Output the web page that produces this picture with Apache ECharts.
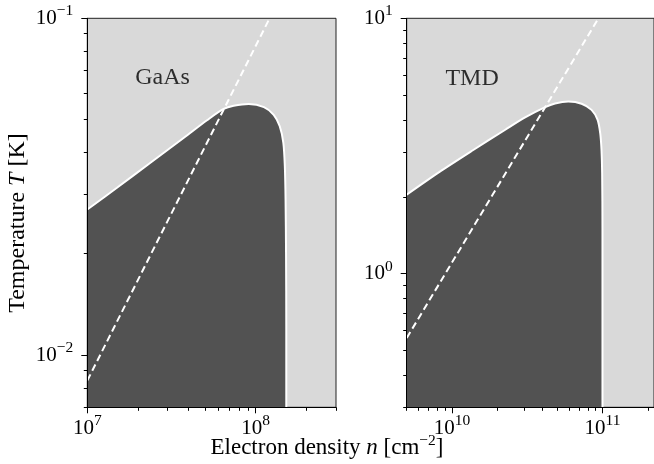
<!DOCTYPE html>
<html>
<head>
<meta charset="utf-8">
<script src="https://cdn.jsdelivr.net/npm/echarts@6/dist/echarts.min.js"></script>
<style>
html,body{margin:0;padding:0;background:#fff;}
#chart{width:654px;height:464px;}
</style>
</head>
<body>
<div id="chart"></div>
<script>
// ---- data ----
// GaAs panel: phase boundary (n in cm^-2, T in K)
const gaasN = [1e7, 1.5e7, 2.36e7, 3.73e7, 5.14e7, 6.45e7, 7.4e7, 9.1e7, 1.12e8, 1.28e8, 1.39e8, 1.46e8, 1.49e8, 1.505e8, 1.515e8, 1.52e8, 1.52e8];
const gaasT = [0.02705, 0.0314, 0.0372, 0.0441, 0.0498, 0.0538, 0.0550, 0.0557, 0.0545, 0.0517, 0.0478, 0.0427, 0.0364, 0.0290, 0.020, 0.012, 0.007];
const gaasDashN = [1e7, 1.21e8];
const gaasDashT = [0.0084, 0.1];
// TMD panel
const tmdN = [5e9, 8.17e9, 1.36e10, 2.26e10, 3.06e10, 4.16e10, 4.84e10, 5.93e10, 7.26e10, 8.46e10, 9.27e10, 9.66e10, 9.85e10, 9.95e10, 1.0e11, 1.0e11];
const tmdT = [2.04, 2.494, 3.031, 3.662, 4.09, 4.49, 4.64, 4.72, 4.63, 4.38, 4.01, 3.55, 3.06, 2.48, 1.5, 0.3];
const tmdDashN = [5e9, 9.4e10];
const tmdDashT = [0.56, 10];

const panelNames = ['GaAs', 'TMD'];
const panelLabelN = [2.8e7, 1.36e10];
const panelLabelT = [0.0668, 5.8];

// axis ranges and ticks
const gaasXRange = [1e7, 3e8];
const gaasYRange = [0.007, 0.1];
const tmdXRange = [5e9, 2.2e11];
const tmdYRange = [0.3, 10];

const gaasXMajor = [1e7, 1e8];
const gaasXMajorLabels = ['7', '8'];
const gaasXMinor = [2e7,3e7,4e7,5e7,6e7,7e7,8e7,9e7,2e8,3e8];
const gaasYMajor = [0.01, 0.1];
const gaasYMajorLabels = ['\u22122', '\u22121'];
const gaasYMinor = [0.007,0.008,0.009,0.02,0.03,0.04,0.05,0.06,0.07,0.08,0.09];
const tmdXMajor = [1e10, 1e11];
const tmdXMajorLabels = ['10', '11'];
const tmdXMinor = [5e9,6e9,7e9,8e9,9e9,2e10,3e10,4e10,5e10,6e10,7e10,8e10,9e10,2e11];
const tmdYMajor = [1, 10];
const tmdYMajorLabels = ['0', '1'];
const tmdYMinor = [0.3,0.4,0.5,0.6,0.7,0.8,0.9,2,3,4,5,6,7,8,9];

const xTitle = 'Electron density {i|n} [cm{s|\u22122}]';
const yTitle = 'Temperature {i|T} [K]';

// ---- build ----
const FONT = '"Liberation Serif", "Times New Roman", serif';
const zip = (a, b) => a.map((v, i) => [v, b[i]]);

const tickRich = {
  b: {fontFamily: FONT, fontSize: 21, color: '#000'},
  s: {fontFamily: FONT, fontSize: 15.5, color: '#000', padding: [0, 0, 14, 0]}
};

function majorAxis(grid, range, ticks, labels, isX) {
  return {
    type: 'log', logBase: 10, gridIndex: grid, min: range[0], max: range[1], z: 5,
    position: isX ? 'bottom' : 'left',
    axisLine: {show: true, onZero: false, lineStyle: {color: '#000', width: 1}},
    axisTick: {show: true, inside: false, length: 6, customValues: ticks, lineStyle: {color: '#000', width: 1}},
    axisLabel: {
      show: true, customValues: ticks, margin: isX ? 6 : 14,
      formatter: function (v) {
        let best = 0, bd = Infinity;
        ticks.forEach((t, i) => { const d = Math.abs(Math.log10(t) - Math.log10(v)); if (d < bd) { bd = d; best = i; } });
        return '{b|10}{s|' + labels[best] + '}';
      },
      rich: tickRich
    },
    splitLine: {show: false}, minorTick: {show: false}, minorSplitLine: {show: false}
  };
}
function minorAxis(grid, range, ticks, isX) {
  return {
    type: 'log', logBase: 10, gridIndex: grid, min: range[0], max: range[1], z: 5,
    position: isX ? 'bottom' : 'left',
    axisLine: {show: false, onZero: false},
    axisTick: {show: true, inside: false, length: 3.5, customValues: ticks, lineStyle: {color: '#000', width: 1}},
    axisLabel: {show: false},
    splitLine: {show: false}, minorTick: {show: false}, minorSplitLine: {show: false}
  };
}

function boundarySeries(ax, data) {
  return {
    type: 'line', xAxisIndex: ax, yAxisIndex: ax, data: data, showSymbol: false, symbol: 'none',
    smooth: 0.3, z: 2, silent: true,
    lineStyle: {color: '#ffffff', width: 2},
    areaStyle: {color: '#525252', opacity: 1, origin: 'start'}
  };
}
function dashSeries(ax, data) {
  return {
    type: 'line', xAxisIndex: ax, yAxisIndex: ax, data: data, showSymbol: false, symbol: 'none',
    z: 3, silent: true,
    lineStyle: {color: '#ffffff', width: 2, type: [7, 4]}
  };
}
function labelSeries(ax, i) {
  return {
    type: 'scatter', xAxisIndex: ax, yAxisIndex: ax, symbolSize: 0, z: 4, silent: true,
    data: [{name: panelNames[i], value: [panelLabelN[i], panelLabelT[i]]}],
    label: {show: true, position: 'inside', formatter: '{b}', fontFamily: FONT, fontSize: 24, color: '#000', textBorderWidth: 0}
  };
}

const option = {
  animation: false,
  backgroundColor: '#ffffff',
  grid: [
    {left: 87.3, top: 18.3, width: 248.7, height: 389, show: true, backgroundColor: '#d9d9d9', borderColor: '#222', borderWidth: 1, containLabel: false},
    {left: 406.7, top: 18.3, width: 249, height: 389, show: true, backgroundColor: '#d9d9d9', borderColor: '#222', borderWidth: 1, containLabel: false}
  ],
  xAxis: [
    majorAxis(0, gaasXRange, gaasXMajor, gaasXMajorLabels, true),
    minorAxis(0, gaasXRange, gaasXMinor, true),
    majorAxis(1, tmdXRange, tmdXMajor, tmdXMajorLabels, true),
    minorAxis(1, tmdXRange, tmdXMinor, true)
  ],
  yAxis: [
    majorAxis(0, gaasYRange, gaasYMajor, gaasYMajorLabels, false),
    minorAxis(0, gaasYRange, gaasYMinor, false),
    majorAxis(1, tmdYRange, tmdYMajor, tmdYMajorLabels, false),
    minorAxis(1, tmdYRange, tmdYMinor, false)
  ],
  series: [
    boundarySeries(0, zip(gaasN, gaasT)),
    dashSeries(0, zip(gaasDashN, gaasDashT)),
    labelSeries(0, 0),
    boundarySeries(2, zip(tmdN, tmdT)),
    dashSeries(2, zip(tmdDashN, tmdDashT)),
    labelSeries(2, 1)
  ],
  graphic: [
    {type: 'text', x: 327, y: 448, z: 10, silent: true,
     style: {text: xTitle, fontFamily: FONT, fontSize: 23, fill: '#000', textAlign: 'center', textVerticalAlign: 'middle',
       rich: {
         i: {fontFamily: FONT, fontSize: 23, fontStyle: 'italic', fill: '#000'},
         s: {fontFamily: FONT, fontSize: 15.5, fill: '#000', padding: [0, 0, 14, 0]}
       }}},
    {type: 'text', x: 18, y: 223, rotation: Math.PI / 2, z: 10, silent: true,
     style: {text: yTitle, fontFamily: FONT, fontSize: 24, fill: '#000', textAlign: 'center', textVerticalAlign: 'middle',
       rich: {
         i: {fontFamily: FONT, fontSize: 24, fontStyle: 'italic', fill: '#000'}
       }}}
  ]
};

const chart = echarts.init(document.getElementById('chart'), null, {renderer: 'canvas'});
chart.setOption(option);
</script>
</body>
</html>
